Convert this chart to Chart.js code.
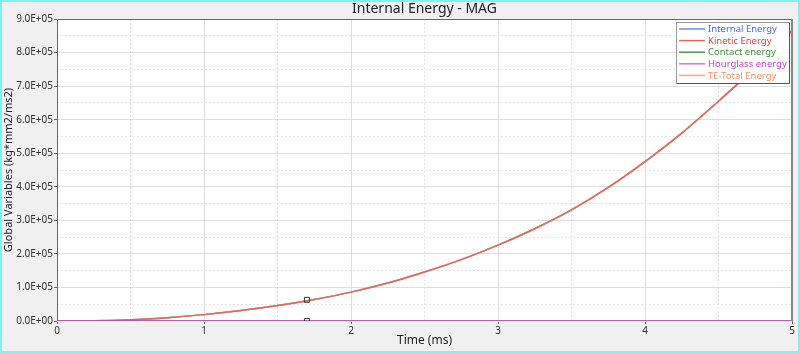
<!DOCTYPE html>
<html>
<head>
<meta charset="utf-8">
<script src="https://cdn.jsdelivr.net/npm/chart.js@4"></script>
<style>
  html, body { margin: 0; padding: 0; background: #f0f0f0; }
  #wrap { width: 800px; height: 353px; }
</style>
</head>
<body>
<div id="wrap"><canvas id="energyChart" width="800" height="353"></canvas></div>
<script>
// values
var timeMs = [0, 0.25, 0.5, 0.75, 1.0, 1.25, 1.5, 1.75, 2.0, 2.25, 2.5, 2.75, 3.0, 3.25, 3.5, 3.75, 4.0, 4.25, 4.5, 4.75, 5.0];
var internalEnergy = [0, 500, 3500, 10000, 19000, 31000, 46000, 64000, 86000, 113000, 146000, 183000, 226000, 275000, 331000, 398000, 475000, 560000, 655000, 755000, 865000];
var kineticEnergy = internalEnergy.slice();
var totalEnergy = internalEnergy.slice();
var contactEnergy = [0, 0, 0, 0, 0, 0, 0, 0, 0, 0, 0, 0, 0, 0, 0, 0, 0, 0, 0, 0, 0];
var hourglassEnergy = [0, 0, 0, 0, 0, 0, 0, 0, 0, 0, 0, 0, 0, 0, 0, 0, 0, 0, 0, 0, 0];
var markerTime = [1.7, 1.7];
var markerValue = [63000, 0];

var seriesNames = ["Internal Energy", "Kinetic Energy", "Contact energy", "Hourglass energy", "TE-Total Energy"];
var lineColors = ["#6f8fdc", "#dc6a5e", "#4f9a4f", "#b455b4", "#f7a985"];
var textColors = ["#4a6fd6", "#d6473b", "#3f8a3f", "#c83ec8", "#f39368"];

function pts(xs, ys) {
    return xs.map(function (x, i) { return { x: x, y: ys[i] }; });
}

function lineSet(i, values, order) {
    return {
        label: seriesNames[i],
        data: pts(timeMs, values),
        borderColor: lineColors[i],
        borderWidth: 1.5,
        pointRadius: 0,
        cubicInterpolationMode: 'monotone',
        fill: false,
        order: order
    };
}

// background, frame, title and the boxed legend
var decor = {
    id: 'decor',
    beforeDraw: function (chart) {
        var ctx = chart.ctx, a = chart.chartArea;
        ctx.save();
        ctx.fillStyle = '#f0f0f0';
        ctx.fillRect(0, 0, chart.width, chart.height);
        ctx.fillStyle = '#ffffff';
        ctx.fillRect(a.left, a.top, a.right - a.left, a.bottom - a.top);
        ctx.restore();
    },
    afterDraw: function (chart) {
        var ctx = chart.ctx, a = chart.chartArea;
        ctx.save();
        // plot frame
        ctx.strokeStyle = '#666';
        ctx.lineWidth = 1;
        ctx.beginPath();
        ctx.moveTo(a.left + 0.5, a.bottom);
        ctx.lineTo(a.left + 0.5, a.top + 0.5);
        ctx.lineTo(a.right, a.top + 0.5);
        ctx.stroke();
        ctx.strokeStyle = '#888';
        ctx.lineWidth = 2;
        ctx.beginPath();
        ctx.moveTo(a.right, a.top);
        ctx.lineTo(a.right, a.bottom);
        ctx.stroke();

        // title over the plot centre
        ctx.fillStyle = '#222';
        ctx.font = '14px "Noto Sans"';
        ctx.textAlign = 'center';
        ctx.textBaseline = 'middle';
        ctx.fillText('Internal Energy - MAG', (a.left + a.right) / 2, 9);

        // legend box
        var bx = 676, by = 22, bw = 113, bh = 61;
        ctx.fillStyle = '#ffffff';
        ctx.fillRect(bx, by, bw, bh);
        ctx.strokeStyle = '#999';
        ctx.lineWidth = 1;
        ctx.strokeRect(bx + 0.5, by + 0.5, bw, bh);
        ctx.strokeStyle = '#555';
        ctx.beginPath();
        ctx.moveTo(bx + bw + 0.5, by + 1);
        ctx.lineTo(bx + bw + 0.5, by + bh + 0.5);
        ctx.lineTo(bx + 1, by + bh + 0.5);
        ctx.stroke();
        ctx.font = '9.5px "Noto Sans"';
        ctx.textAlign = 'left';
        for (var i = 0; i < seriesNames.length; i++) {
            var y = by + 7 + i * 11.6;
            ctx.strokeStyle = i === 3 ? '#d878d8' : lineColors[i];
            ctx.lineWidth = 1.5;
            ctx.beginPath();
            ctx.moveTo(bx + 3, y);
            ctx.lineTo(bx + 29, y);
            ctx.stroke();
            ctx.fillStyle = textColors[i];
            ctx.fillText(seriesNames[i], bx + 32, y + 0.5);
        }

        // cyan outer border
        ctx.strokeStyle = '#86eeee';
        ctx.lineWidth = 2;
        ctx.strokeRect(1, 1, chart.width - 2, chart.height - 2);
        ctx.restore();
    }
};

function isMajor(v, step) {
    return Math.abs(v / step - Math.round(v / step)) < 1e-6;
}

var ctx = document.getElementById('energyChart').getContext('2d');
var chart = new Chart(ctx, {
    type: 'line',
    data: {
        datasets: [
            {
                label: 'markers',
                type: 'scatter',
                data: pts(markerTime, markerValue),
                pointStyle: 'rect',
                pointRadius: 3.5,
                pointBorderWidth: 1,
                borderColor: '#333',
                backgroundColor: 'rgba(0,0,0,0)',
                showLine: false,
                order: 0
            },
            lineSet(3, hourglassEnergy, 1),
            lineSet(2, contactEnergy, 2),
            lineSet(1, kineticEnergy, 3),
            lineSet(4, totalEnergy, 4),
            lineSet(0, internalEnergy, 5)
        ]
    },
    options: {
        responsive: false,
        animation: false,
        layout: { padding: { left: 2, right: 8, top: 19, bottom: 2 } },
        plugins: {
            legend: { display: false },
            tooltip: { enabled: false }
        },
        scales: {
            x: {
                type: 'linear',
                min: 0,
                max: 5,
                ticks: {
                    stepSize: 0.5,
                    maxRotation: 0,
                    autoSkip: false,
                    padding: 1,
                    color: '#333',
                    font: { family: 'Noto Sans', size: 10 },
                    callback: function (v) { return isMajor(v, 1) ? String(v) : ''; }
                },
                grid: {
                    color: function (c) { return isMajor(c.tick.value, 1) ? '#dedede' : '#e4e4e4'; },
                    tickColor: function (c) { return isMajor(c.tick.value, 1) ? '#666' : 'rgba(0,0,0,0)'; },
                    tickLength: 3
                },
                border: {
                    display: false,
                    dash: function (c) { return isMajor(c.tick.value, 1) ? [] : [2, 2]; }
                },
                title: {
                    display: true,
                    text: 'Time (ms)',
                    color: '#222',
                    font: { family: 'Noto Sans', size: 12 },
                    padding: { top: 0, bottom: 3 }
                },
                afterFit: function (s) { s.height = 30; }
            },
            y: {
                min: 0,
                max: 900000,
                ticks: {
                    stepSize: 50000,
                    autoSkip: false,
                    padding: 1,
                    color: '#333',
                    font: { family: 'Noto Sans', size: 10 },
                    callback: function (v) {
                        if (!isMajor(v, 100000)) return '';
                        if (v === 0) return '0.0E+00';
                        return (v / 100000).toFixed(1) + 'E+05';
                    }
                },
                grid: {
                    color: function (c) { return isMajor(c.tick.value, 100000) ? '#dedede' : '#e4e4e4'; },
                    tickColor: function (c) { return isMajor(c.tick.value, 100000) ? '#666' : 'rgba(0,0,0,0)'; },
                    tickLength: 3
                },
                border: {
                    display: false,
                    dash: function (c) { return isMajor(c.tick.value, 100000) ? [] : [2, 2]; }
                },
                title: {
                    display: true,
                    text: 'Global Variables (kg*mm2/ms2)',
                    color: '#222',
                    font: { family: 'Noto Sans', size: 11 },
                    padding: { top: 0, bottom: 0 }
                },
                afterFit: function (s) { s.width = 55; }
            }
        }
    },
    plugins: [decor]
});
</script>
</body>
</html>
